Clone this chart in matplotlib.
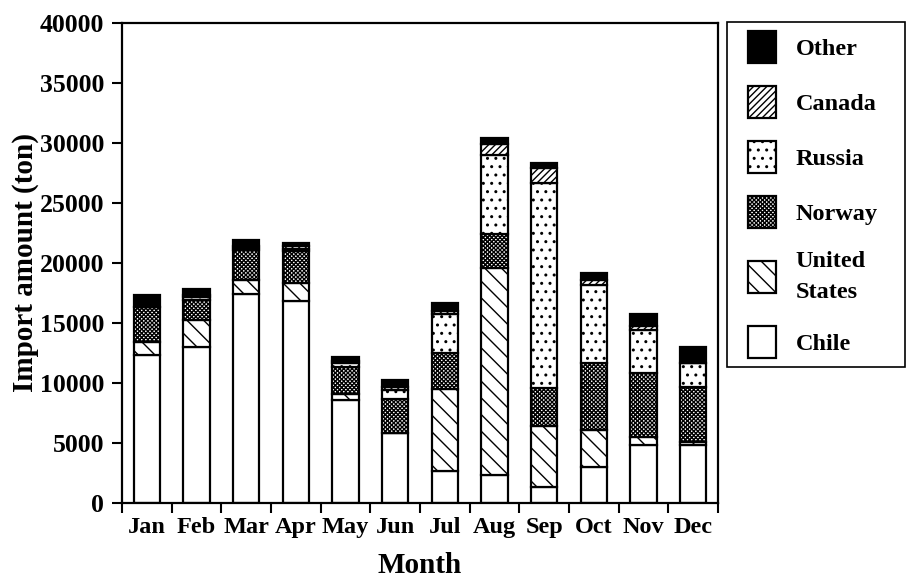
import matplotlib
matplotlib.use("Agg")
import matplotlib.pyplot as plt
import numpy as np
from matplotlib.patches import Patch, Rectangle
from matplotlib.legend_handler import HandlerPatch

plt.rcParams['font.family'] = ['Liberation Serif', 'DejaVu Serif']
plt.rcParams['font.weight'] = 'bold'
plt.rcParams['hatch.linewidth'] = 1.0

months = ['Jan', 'Feb', 'Mar', 'Apr', 'May', 'Jun', 'Jul', 'Aug', 'Sep', 'Oct', 'Nov', 'Dec']
chile = [12300, 13000, 17450, 16850, 8600, 5800, 2700, 2350, 1350, 3000, 4850, 4850]
united_states = [1100, 2250, 1150, 1450, 450, 0, 6800, 17250, 5050, 3050, 650, 250]
norway = [2900, 1700, 2450, 2700, 2300, 2850, 3000, 2850, 3150, 5650, 5350, 4550]
russia = [0, 200, 200, 150, 300, 800, 3250, 6550, 17100, 6500, 3600, 2000]
canada = [0, 200, 200, 250, 150, 250, 250, 900, 1250, 350, 300, 0]
other = [1000, 450, 450, 300, 400, 550, 650, 550, 400, 650, 1000, 1350]

series = [
    ('Chile', chile, 'white', ''),
    ('United\nStates', united_states, 'white', '\\\\'),
    ('Norway', norway, 'white', 'xxxxxxxx'),
    ('Russia', russia, 'white', '..'),
    ('Canada', canada, 'white', '/////'),
    ('Other', other, 'black', ''),
]

fig = plt.figure(figsize=(9.07, 5.81), dpi=100)
ax = fig.add_axes([122/907, 1-503/581, (718-122)/907, (503-23)/581])

x = np.arange(len(months))
bottom = np.zeros(len(months))
handles = []
for name, vals, fc, hatch in series:
    vals = np.array(vals, dtype=float)
    ax.bar(x, vals, width=0.53, bottom=bottom, color=fc, edgecolor='black',
           hatch=hatch, linewidth=1.6, zorder=2)
    bottom += vals
    handles.append(Patch(facecolor=fc, edgecolor='black', hatch=hatch,
                         linewidth=1.6, label=name))

ax.set_xlim(-0.5, 11.5)
ax.set_ylim(0, 40000)
ax.set_yticks(np.arange(0, 40001, 5000))
ax.set_xticks(x)
ax.set_xticklabels(months)
ax.set_xticks(np.arange(-0.5, 12, 1), minor=True)
ax.tick_params(axis='x', which='major', length=0, labelsize=17.5, pad=10)
ax.tick_params(axis='x', which='minor', length=7, width=1.5, direction='out')
ax.tick_params(axis='y', which='major', length=7, width=1.5, labelsize=18.5,
               direction='out', pad=6)
for lab in ax.get_xticklabels() + ax.get_yticklabels():
    lab.set_fontweight('bold')

for s in ax.spines.values():
    s.set_linewidth(1.6)

ax.set_xlabel('Month', fontsize=21, fontweight='bold', labelpad=10)
ax.set_ylabel('Import amount (ton)', fontsize=21, fontweight='bold', labelpad=0)

# legend frame drawn separately
fig.patches.append(Rectangle((727/907, 1-367/581), (905-727)/907, (367-22)/581,
                             transform=fig.transFigure, facecolor='white',
                             edgecolor='black', linewidth=1.2, zorder=0))

def rect_handle(legend, orig_handle, xdescent, ydescent, width, height, fontsize):
    w = 20.0
    return Rectangle((-xdescent + width - w, -ydescent), w, height)

leg = fig.legend(handles[::-1], [h.get_label() for h in handles[::-1]],
                 loc='upper left', bbox_to_anchor=(738/907, 1-31/581),
                 fontsize=17.5, frameon=False,
                 handlelength=1.56, handleheight=1.65, labelspacing=0.95,
                 borderpad=0, handletextpad=0.82, borderaxespad=0,
                 handler_map={Patch: HandlerPatch(patch_func=rect_handle)})
for t in leg.get_texts():
    t.set_fontweight('bold')
    t.set_linespacing(1.6)

fig.savefig('out.png', dpi=100)
